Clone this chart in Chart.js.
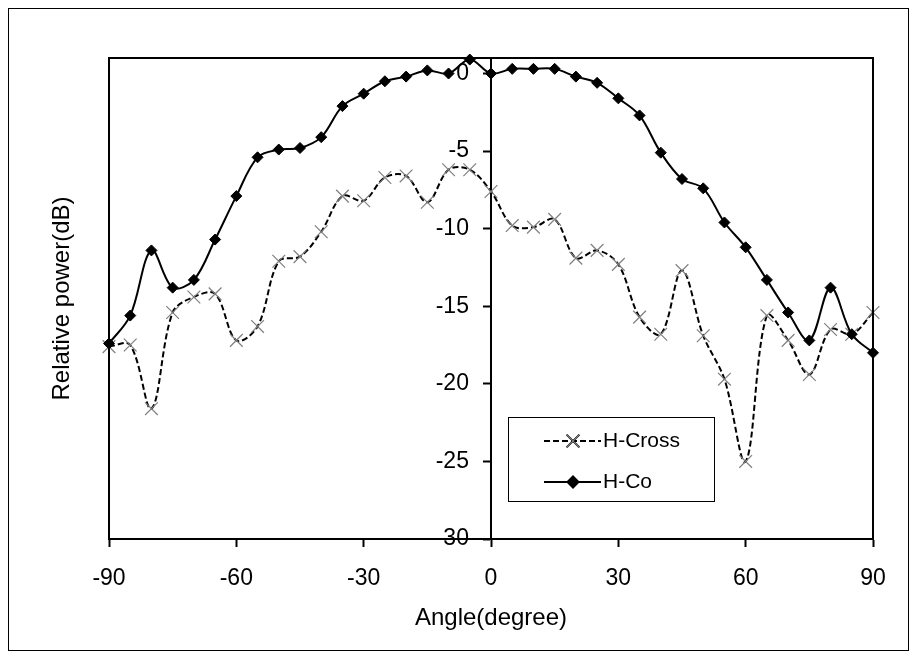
<!DOCTYPE html>
<html lang="en">
<head>
    <meta charset="UTF-8">
    <title>Relative power vs angle</title>
    <style>
        html, body { margin: 0; padding: 0; background: #fff; }
        #wrap { width: 917px; height: 660px; }
    </style>
</head>
<body>
    <div id="wrap">
        <canvas id="patternChart" width="917" height="660"></canvas>
    </div>

    <script src="https://cdn.jsdelivr.net/npm/chart.js"></script>

    <script>
        // Measured angles (degree)
        const angles = [-90, -85, -80, -75, -70, -65, -60, -55, -50, -45, -40, -35, -30, -25, -20, -15, -10, -5,
                        0, 5, 10, 15, 20, 25, 30, 35, 40, 45, 50, 55, 60, 65, 70, 75, 80, 85, 90];

        // Relative power (dB)
        const hCross = [-17.6, -17.5, -21.6, -15.4, -14.4, -14.2, -17.2, -16.3, -12.1, -11.8, -10.2, -7.9, -8.2, -6.7, -6.6, -8.3, -6.2, -6.2,
                        -7.6, -9.8, -9.9, -9.4, -11.9, -11.4, -12.3, -15.7, -16.8, -12.7, -16.9, -19.7, -25.0, -15.6, -17.2, -19.4, -16.5, -16.8, -15.4];
        const hCo = [-17.4, -15.6, -11.4, -13.8, -13.3, -10.7, -7.9, -5.4, -4.9, -4.8, -4.1, -2.1, -1.3, -0.5, -0.2, 0.2, 0.0, 0.9,
                     0.0, 0.3, 0.3, 0.3, -0.2, -0.6, -1.6, -2.7, -5.1, -6.8, -7.4, -9.6, -11.2, -13.3, -15.4, -17.2, -13.8, -16.8, -18.0];

        // Tick labels
        const xTicks = [-90, -60, -30, 0, 30, 60, 90];
        const yTicks = [-30, -25, -20, -15, -10, -5, 0];

        const fontFamily = "'Liberation Sans', Arial, sans-serif";
        Chart.defaults.font.family = fontFamily;
        Chart.defaults.color = '#000';

        const toPoints = (ys) => angles.map((a, i) => ({ x: a, y: ys[i] }));
        const setTicks = (list) => (scale) => { scale.ticks = list.map(v => ({ value: v })); };

        // frame around the whole picture, box around the plot area, and the legend
        const framePlugin = {
            id: 'frame',
            beforeDraw(chart) {
                const ctx = chart.ctx;
                ctx.save();
                ctx.fillStyle = '#fff';
                ctx.fillRect(0, 0, chart.width, chart.height);
                ctx.strokeStyle = '#000';
                ctx.lineWidth = 1;
                ctx.strokeRect(8.5, 8.5, 900, 642);
                ctx.restore();
            },
            afterDraw(chart) {
                const ctx = chart.ctx;
                const a = chart.chartArea;
                ctx.save();
                ctx.strokeStyle = '#000';
                ctx.lineWidth = 2;
                ctx.strokeRect(a.left, a.top, a.right - a.left, a.bottom - a.top);

                // legend
                const box = { x: 508.5, y: 417.5, w: 206, h: 84 };
                ctx.fillStyle = '#fff';
                ctx.fillRect(box.x, box.y, box.w, box.h);
                ctx.lineWidth = 1;
                ctx.strokeStyle = '#000';
                ctx.strokeRect(box.x, box.y, box.w, box.h);

                const rows = [441, 482];
                chart.data.datasets.forEach((ds, i) => {
                    const y = rows[i];
                    ctx.beginPath();
                    ctx.setLineDash(ds.borderDash || []);
                    ctx.lineWidth = 2;
                    ctx.strokeStyle = ds.borderColor;
                    ctx.moveTo(544, y);
                    ctx.lineTo(601, y);
                    ctx.stroke();
                    ctx.setLineDash([]);
                    Chart.helpers.drawPoint(ctx, {
                        pointStyle: ds.pointStyle,
                        radius: ds.pointRadius,
                        rotation: 0,
                        borderWidth: ds.pointBorderWidth
                    }, 573, y);
                    ctx.fillStyle = ds.pointBackgroundColor;
                    ctx.strokeStyle = ds.pointBorderColor;
                    ctx.lineWidth = ds.pointBorderWidth;
                    ctx.fill();
                    ctx.stroke();
                    ctx.fillStyle = '#000';
                    ctx.font = '21px ' + fontFamily;
                    ctx.textAlign = 'left';
                    ctx.textBaseline = 'middle';
                    ctx.fillText(ds.label, 603, y);
                });
                ctx.restore();
            }
        };

        const ctx = document.getElementById('patternChart').getContext('2d');
        const patternChart = new Chart(ctx, {
            type: 'line',
            data: {
                datasets: [{
                    label: 'H-Cross',
                    data: toPoints(hCross),
                    borderColor: '#000',
                    borderWidth: 2,
                    borderDash: [6, 3],
                    pointStyle: 'crossRot',
                    pointRadius: 9,
                    pointBorderWidth: 1.2,
                    pointBorderColor: '#7f7f7f',
                    pointBackgroundColor: '#7f7f7f',
                    tension: 0.35,
                    clip: false,
                    order: 1
                }, {
                    label: 'H-Co',
                    data: toPoints(hCo),
                    borderColor: '#000',
                    borderWidth: 2,
                    pointStyle: 'rectRot',
                    pointRadius: 5.5,
                    pointBorderWidth: 1,
                    pointBorderColor: '#000',
                    pointBackgroundColor: '#000',
                    tension: 0.35,
                    clip: false,
                    order: 0
                }]
            },
            options: {
                responsive: false,
                animation: false,
                devicePixelRatio: 1,
                layout: { padding: { top: 58, right: 44, bottom: 0, left: 0 } },
                plugins: {
                    legend: { display: false },
                    tooltip: { enabled: false }
                },
                scales: {
                    x: {
                        type: 'linear',
                        position: 'bottom',
                        min: -90,
                        max: 90,
                        afterBuildTicks: setTicks(xTicks),
                        afterFit: (scale) => { scale.height = 121; },
                        grid: { drawOnChartArea: false, tickLength: 8, tickWidth: 2, tickColor: '#000' },
                        border: { color: '#000', width: 2 },
                        ticks: { font: { size: 23 }, padding: 18, maxRotation: 0 },
                        title: {
                            display: true,
                            text: 'Angle(degree)',
                            font: { size: 24 },
                            padding: { top: 0, bottom: 27 }
                        }
                    },
                    y: {
                        type: 'linear',
                        position: { x: 0 },
                        min: -30,
                        max: 1,
                        afterBuildTicks: setTicks(yTicks),
                        grid: { drawOnChartArea: false, tickLength: 7, tickWidth: 2, tickColor: '#000' },
                        border: { color: '#000', width: 2 },
                        ticks: { display: false }
                    },
                    yLabels: {
                        type: 'linear',
                        position: { x: -5.2 },
                        min: -30,
                        max: 1,
                        afterBuildTicks: setTicks(yTicks),
                        grid: { display: false },
                        border: { display: false },
                        ticks: { font: { size: 23 }, padding: 0 }
                    },
                    yTitle: {
                        type: 'linear',
                        position: 'left',
                        min: -30,
                        max: 1,
                        afterFit: (scale) => { scale.width = 109; },
                        grid: { display: false },
                        border: { display: false },
                        ticks: { display: false },
                        title: {
                            display: true,
                            text: 'Relative power(dB)',
                            font: { size: 24 },
                            padding: { top: 48, bottom: 0 }
                        }
                    }
                }
            },
            plugins: [framePlugin]
        });
    </script>
</body>
</html>
